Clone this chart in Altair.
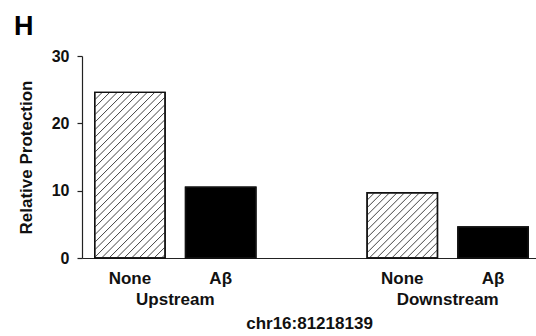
import altair as alt
import pandas as pd
import numpy as np

# Relative protection at chr16:81218139, upstream and downstream sites
groups = ["Upstream", "Upstream", "Downstream", "Downstream"]
treatments = ["None", "Aβ", "None", "Aβ"]
protection = [24.6, 10.5, 9.7, 4.6]
group_order = ["Upstream", "Downstream"]
treatment_order = ["None", "Aβ"]
y_ticks = [0, 10, 20, 30]

W, H = 454, 202
X_MAX, Y_MAX = 5, 30
FONT = "Liberation Sans"

df = pd.DataFrame({"group": groups, "treatment": treatments, "value": protection})
# one empty slot between the two site groups
df["slot"] = [group_order.index(g) * 3 + treatment_order.index(t) for g, t in zip(groups, treatments)]
df["x0"] = df["slot"] + 0.14
df["x1"] = df["slot"] + 0.915
df["xc"] = (df["x0"] + df["x1"]) / 2

# diagonal hatching for the untreated bars, clipped to each bar
kx, ky = W / X_MAX, H / Y_MAX
spacing = 7.5
segs = []
for _, r in df[df["treatment"] == "None"].iterrows():
    x0p, x1p, hp = r["x0"] * kx, r["x1"] * kx, r["value"] * ky
    for t in np.arange(x0p - hp, x1p, spacing):
        lo = max(0.0, x0p - t)
        hi = min(hp, x1p - t)
        if hi > lo + 0.5:
            segs.append({"hx": (t + lo) / kx, "hy": lo / ky, "hx2": (t + hi) / kx, "hy2": hi / ky})
hatch = pd.DataFrame(segs)

x_scale = alt.Scale(domain=[0, X_MAX], nice=False, zero=False)
y_scale = alt.Scale(domain=[0, Y_MAX], nice=False)

x_axis = alt.Axis(
    labels=False, ticks=False, grid=False, domainColor="#222", domainWidth=1.2,
    title="chr16:81218139", titleFont=FONT, titleFontSize=17, titleFontWeight="bold",
    titleColor="#111", titlePadding=57,
)
y_axis = alt.Axis(
    values=y_ticks, grid=False, domainColor="#222", domainWidth=1.2, tickColor="#222",
    tickSize=5, tickWidth=1.2, labelPadding=8, labelFont=FONT, labelFontSize=16,
    labelFontWeight="bold", labelColor="#111", title="Relative Protection",
    titleFont=FONT, titleFontSize=17, titleFontWeight="bold", titleColor="#111",
    titlePadding=16,
)

fill_scale = alt.Scale(domain=treatment_order, range=["white", "black"])

bars = alt.Chart(df).mark_rect(stroke="#111", strokeWidth=1.4).encode(
    x=alt.X("x0:Q", scale=x_scale, axis=x_axis),
    x2="x1:Q",
    y=alt.Y("value:Q", scale=y_scale, axis=y_axis),
    y2=alt.datum(0),
    fill=alt.Fill("treatment:N", scale=fill_scale, legend=None),
)

hatch_lines = alt.Chart(hatch).mark_rule(color="#444", strokeWidth=1).encode(
    x="hx:Q", x2="hx2:Q", y="hy:Q", y2="hy2:Q"
)

outline = alt.Chart(df).mark_rect(fillOpacity=0, stroke="#111", strokeWidth=1.4).encode(
    x="x0:Q", x2="x1:Q", y="value:Q", y2=alt.datum(0)
)

treat_labels = alt.Chart(df).mark_text(
    font=FONT, fontSize=17, fontWeight="bold", color="#111", baseline="alphabetic"
).encode(x="xc:Q", y=alt.value(H + 26), text="treatment:N")

group_labels = alt.Chart(df).transform_aggregate(
    xc="mean(xc)", groupby=["group"]
).mark_text(
    font=FONT, fontSize=17, fontWeight="bold", color="#111", baseline="alphabetic"
).encode(x="xc:Q", y=alt.value(H + 47), text="group:N")

panel_letter = alt.Chart(df).transform_filter("datum.slot == 0").mark_text(
    font=FONT, fontSize=27, fontWeight="bold", color="#000", align="left", baseline="alphabetic"
).encode(x=alt.value(-68), y=alt.value(-21), text=alt.value("H"))

chart = alt.layer(bars, hatch_lines, outline, treat_labels, group_labels, panel_letter).properties(
    width=W, height=H,
    autosize=alt.AutoSizeParams(type="none"),
    padding={"left": 82, "top": 56, "right": 0, "bottom": 78},
).configure_view(stroke=None)

chart.save("out.html", embed_options={"renderer": "svg", "actions": False})
